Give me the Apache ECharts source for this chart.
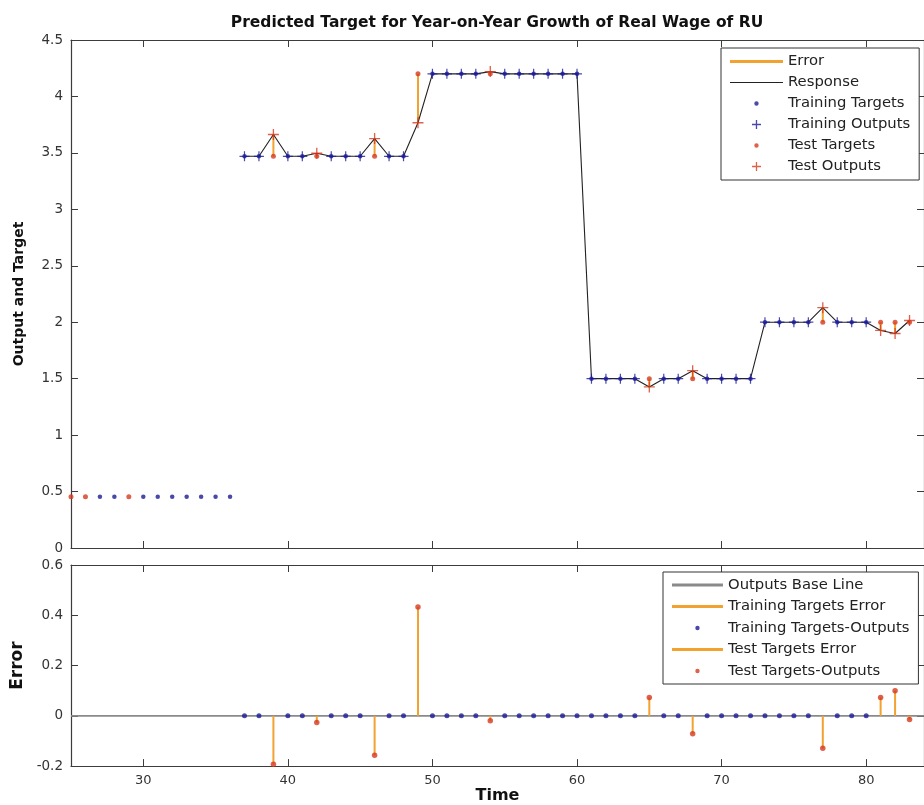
<!DOCTYPE html>
<html>
<head>
<meta charset="utf-8">
<script src="https://cdn.jsdelivr.net/npm/echarts@6/dist/echarts.min.js"></script>
<style>
html,body{margin:0;padding:0;background:#fff;}
#chart{width:924px;height:805px;}
</style>
</head>
<body>
<div id="chart"></div>
<script>
// ---------------- data ----------------
const xMin = 25, xMax = 84;
const xTickValues = [30, 40, 50, 60, 70, 80];

// initial delay targets (targets only, no outputs)
const delayTimes   = [25, 26, 27, 28, 29, 30, 31, 32, 33, 34, 35, 36];
const delayTargets = [0.455, 0.455, 0.455, 0.455, 0.455, 0.455, 0.455, 0.455, 0.455, 0.455, 0.455, 0.455];
const delayTestTimes = [25, 26, 29];

// main time steps
const times = [37,38,39,40,41,42,43,44,45,46,47,48,49,50,51,52,53,54,55,56,57,58,59,60,
               61,62,63,64,65,66,67,68,69,70,71,72,73,74,75,76,77,78,79,80,81,82,83];
const targets = [3.47,3.47,3.47,3.47,3.47,3.47,3.47,3.47,3.47,3.47,3.47,3.47,
                 4.2,4.2,4.2,4.2,4.2,4.2,4.2,4.2,4.2,4.2,4.2,4.2,
                 1.5,1.5,1.5,1.5,1.5,1.5,1.5,1.5,1.5,1.5,1.5,1.5,
                 2.0,2.0,2.0,2.0,2.0,2.0,2.0,2.0,2.0,2.0,2.0];
const outputs = [3.47,3.47,3.663,3.47,3.47,3.497,3.47,3.47,3.47,3.627,3.47,3.47,
                 3.767,4.2,4.2,4.2,4.2,4.22,4.2,4.2,4.2,4.2,4.2,4.2,
                 1.5,1.5,1.5,1.5,1.427,1.5,1.5,1.571,1.5,1.5,1.5,1.5,
                 2.0,2.0,2.0,2.0,2.129,2.0,2.0,2.0,1.927,1.9,2.015];
const errors  = [0,0,-0.193,0,0,-0.027,0,0,0,-0.157,0,0,
                 0.433,0,0,0,0,-0.02,0,0,0,0,0,0,
                 0,0,0,0,0.073,0,0,-0.071,0,0,0,0,
                 0,0,0,0,-0.129,0,0,0,0.073,0.10,-0.015];
const testTimes = [39, 42, 46, 49, 54, 65, 68, 77, 81, 82, 83];

// ---------------- styles ----------------
const BLUE = '#1c1c96';
const RED = '#d63a1e';
const ORANGE = '#f2a230';
const FONT = 'DejaVu Sans';
const AXIS_COLOR = '#3c3c3c';

// ---------------- derived series data ----------------
const isTest = t => testTimes.includes(t);
const trainTargets = [], testTargets = [], trainOutputs = [], testOutputs = [];
const testErrSeg = [], trainErrStem = [], testErrStem = [], trainErrDots = [], testErrDots = [];
delayTimes.forEach((t, i) => {
  (delayTestTimes.includes(t) ? testTargets : trainTargets).push([t, delayTargets[i]]);
});
times.forEach((t, i) => {
  if (isTest(t)) {
    testTargets.push([t, targets[i]]);
    testOutputs.push([t, outputs[i]]);
    testErrSeg.push([t, targets[i], outputs[i]]);
    testErrStem.push([t, errors[i]]);
    testErrDots.push([t, errors[i]]);
  } else {
    trainTargets.push([t, targets[i]]);
    trainOutputs.push([t, outputs[i]]);
    trainErrStem.push([t, errors[i]]);
    trainErrDots.push([t, errors[i]]);
  }
});
const responseData = times.map((t, i) => [t, outputs[i]]);
const baseLineData = [[xMin, 0], [xMax, 0]];

// ---------------- legend icons ----------------
function icon(w, h, body) {
  return 'path://M0,0h0.01v0.01h-0.01Z M' + w + ',' + h + 'h0.01v0.01h-0.01Z ' + body;
}
function lineIcon(w, h, th) {
  const y0 = (h - th) / 2;
  return icon(w, h, 'M0,' + y0 + 'H' + w + 'V' + (y0 + th) + 'H0Z');
}
function dotIcon(w, h, r) {
  const cx = w / 2, cy = h / 2;
  return icon(w, h, 'M' + (cx - r) + ',' + cy + 'a' + r + ',' + r + ' 0 1,0 ' + (2 * r) + ',0a' + r + ',' + r + ' 0 1,0 ' + (-2 * r) + ',0Z');
}
function plusIcon(w, h, s, th) {
  const cx = w / 2, cy = h / 2;
  return icon(w, h,
    'M' + (cx - s / 2) + ',' + (cy - th / 2) + 'H' + (cx + s / 2) + 'V' + (cy + th / 2) + 'H' + (cx - s / 2) + 'Z ' +
    'M' + (cx - th / 2) + ',' + (cy - s / 2) + 'H' + (cx + th / 2) + 'V' + (cy + s / 2) + 'H' + (cx - th / 2) + 'Z');
}
const PLUS = 'path://M0,4.4H10V5.6H0Z M4.4,0H5.6V10H4.4Z';

// ---------------- axes helpers ----------------
function xAx(grid, pos, labels, extra) {
  return Object.assign({
    type: 'value', gridIndex: grid, position: pos, min: xMin, max: xMax,
    axisLine: {show: true, onZero: false, lineStyle: {color: AXIS_COLOR, width: 1.2}},
    axisTick: {show: true, inside: true, length: 7, customValues: xTickValues, lineStyle: {color: AXIS_COLOR}},
    axisLabel: labels ? {show: true, customValues: xTickValues, margin: 8, fontFamily: FONT, fontSize: 13, color: '#333'} : {show: false},
    splitLine: {show: false}
  }, extra || {});
}
function yAx(grid, pos, min, max, interval, labels, extra) {
  return Object.assign({
    type: 'value', gridIndex: grid, position: pos, min: min, max: max, interval: interval,
    axisLine: {show: true, onZero: false, lineStyle: {color: AXIS_COLOR, width: 1.2}},
    axisTick: {show: true, inside: true, length: 7, lineStyle: {color: AXIS_COLOR}},
    axisLabel: labels ? {show: true, margin: 8, fontFamily: FONT, fontSize: 13.5, color: '#333'} : {show: false},
    splitLine: {show: false}
  }, extra || {});
}

function segRender(params, api) {
  const p1 = api.coord([api.value(0), api.value(1)]);
  const p2 = api.coord([api.value(0), api.value(2)]);
  return {type: 'line', shape: {x1: p1[0], y1: p1[1], x2: p2[0], y2: p2[1]},
          style: {stroke: ORANGE, lineWidth: 2}};
}
function stemRender(params, api) {
  const p1 = api.coord([api.value(0), 0]);
  const p2 = api.coord([api.value(0), api.value(1)]);
  return {type: 'line', shape: {x1: p1[0], y1: p1[1], x2: p2[0], y2: p2[1]},
          style: {stroke: ORANGE, lineWidth: 2}};
}

const chart = echarts.init(document.getElementById('chart'), null, {renderer: 'canvas'});
const legendText = {fontFamily: FONT, fontSize: 14.8, color: '#222'};

chart.setOption({
  animation: false,
  backgroundColor: '#fff',
  title: {
    text: 'Predicted Target for Year-on-Year Growth of Real Wage of RU',
    left: 497, top: 15, padding: 0, textAlign: 'center',
    textStyle: {fontFamily: FONT, fontSize: 15.5, fontWeight: 'bold', color: '#111'}
  },
  grid: [
    {left: 71, right: -3, top: 40, height: 508},
    {left: 71, right: -3, top: 565, height: 202}
  ],
  xAxis: [
    xAx(0, 'bottom', false),
    xAx(0, 'top', false),
    xAx(1, 'bottom', true, {name: 'Time', nameLocation: 'middle', nameGap: 21,
      nameTextStyle: {fontFamily: FONT, fontSize: 16, fontWeight: 'bold', color: '#111'}}),
    xAx(1, 'top', false)
  ],
  yAxis: [
    yAx(0, 'left', 0, 4.5, 0.5, true, {name: 'Output and Target', nameLocation: 'middle', nameGap: 45,
      nameTextStyle: {fontFamily: FONT, fontSize: 14, fontWeight: 'bold', color: '#111'}}),
    yAx(0, 'right', 0, 4.5, 0.5, false),
    yAx(1, 'left', -0.2, 0.6, 0.2, true, {name: 'Error', nameLocation: 'middle', nameGap: 44,
      nameTextStyle: {fontFamily: FONT, fontSize: 17, fontWeight: 'bold', color: '#111'}}),
    yAx(1, 'right', -0.2, 0.6, 0.2, false)
  ],
  legend: [
    {
      orient: 'vertical', left: 721, top: 48, padding: [6, 9, 6, 9],
      itemWidth: 53, itemHeight: 14, itemGap: 6,
      borderColor: '#333', borderWidth: 1, backgroundColor: '#fff',
      textStyle: legendText, itemStyle: {borderWidth: 0}, selectedMode: false,
      data: [
        {name: 'Error', icon: lineIcon(53, 14, 3)},
        {name: 'Response', icon: lineIcon(53, 14, 1.2)},
        {name: 'Training Targets', icon: dotIcon(53, 14, 2.2)},
        {name: 'Training Outputs', icon: plusIcon(53, 14, 9, 1.3)},
        {name: 'Test Targets', icon: dotIcon(53, 14, 2.2)},
        {name: 'Test Outputs', icon: plusIcon(53, 14, 9, 1.3)}
      ]
    },
    {
      orient: 'vertical', left: 663, top: 572, padding: [5.5, 9, 5.5, 9],
      itemWidth: 51, itemHeight: 14, itemGap: 6.5,
      borderColor: '#333', borderWidth: 1, backgroundColor: '#fff',
      textStyle: legendText, itemStyle: {borderWidth: 0}, selectedMode: false,
      data: [
        {name: 'Outputs Base Line', icon: lineIcon(51, 14, 3)},
        {name: 'Training Targets Error', icon: lineIcon(51, 14, 3)},
        {name: 'Training Targets-Outputs', icon: dotIcon(51, 14, 2.2)},
        {name: 'Test Targets Error', icon: lineIcon(51, 14, 3)},
        {name: 'Test Targets-Outputs', icon: dotIcon(51, 14, 2.2)}
      ]
    }
  ],
  series: [
    // ---- top panel ----
    {name: 'Error', type: 'custom', xAxisIndex: 0, yAxisIndex: 0, renderItem: segRender,
     encode: {x: 0, y: [1, 2]}, data: testErrSeg, itemStyle: {color: ORANGE}, silent: true, z: 2},
    {name: 'Response', type: 'line', xAxisIndex: 0, yAxisIndex: 0, data: responseData,
     showSymbol: false, symbol: 'none', lineStyle: {color: '#222', width: 1.1}, itemStyle: {color: '#222'},
     silent: true, z: 3},
    {name: 'Training Targets', type: 'scatter', xAxisIndex: 0, yAxisIndex: 0, data: trainTargets,
     symbol: 'circle', symbolSize: 4.5, itemStyle: {color: BLUE}, silent: true, z: 4},
    {name: 'Training Outputs', type: 'scatter', xAxisIndex: 0, yAxisIndex: 0, data: trainOutputs,
     symbol: PLUS, symbolSize: 10, itemStyle: {color: BLUE}, silent: true, z: 5},
    {name: 'Test Targets', type: 'scatter', xAxisIndex: 0, yAxisIndex: 0, data: testTargets,
     symbol: 'circle', symbolSize: 5, itemStyle: {color: RED}, silent: true, z: 6},
    {name: 'Test Outputs', type: 'scatter', xAxisIndex: 0, yAxisIndex: 0, data: testOutputs,
     symbol: PLUS, symbolSize: 11, itemStyle: {color: RED}, silent: true, z: 7},
    // ---- bottom panel ----
    {name: 'Outputs Base Line', type: 'line', xAxisIndex: 2, yAxisIndex: 2, data: baseLineData,
     showSymbol: false, symbol: 'none', lineStyle: {color: '#8a8a8a', width: 1.6}, itemStyle: {color: '#8a8a8a'},
     silent: true, z: 2},
    {name: 'Training Targets Error', type: 'custom', xAxisIndex: 2, yAxisIndex: 2, renderItem: stemRender,
     encode: {x: 0, y: 1}, data: trainErrStem, itemStyle: {color: ORANGE}, silent: true, z: 3},
    {name: 'Training Targets-Outputs', type: 'scatter', xAxisIndex: 2, yAxisIndex: 2, data: trainErrDots,
     symbol: 'circle', symbolSize: 5, itemStyle: {color: BLUE}, silent: true, z: 4},
    {name: 'Test Targets Error', type: 'custom', xAxisIndex: 2, yAxisIndex: 2, renderItem: stemRender,
     encode: {x: 0, y: 1}, data: testErrStem, itemStyle: {color: ORANGE}, silent: true, z: 5},
    {name: 'Test Targets-Outputs', type: 'scatter', xAxisIndex: 2, yAxisIndex: 2, data: testErrDots,
     symbol: 'circle', symbolSize: 5.5, itemStyle: {color: RED}, silent: true, z: 6}
  ]
});
</script>
</body>
</html>
